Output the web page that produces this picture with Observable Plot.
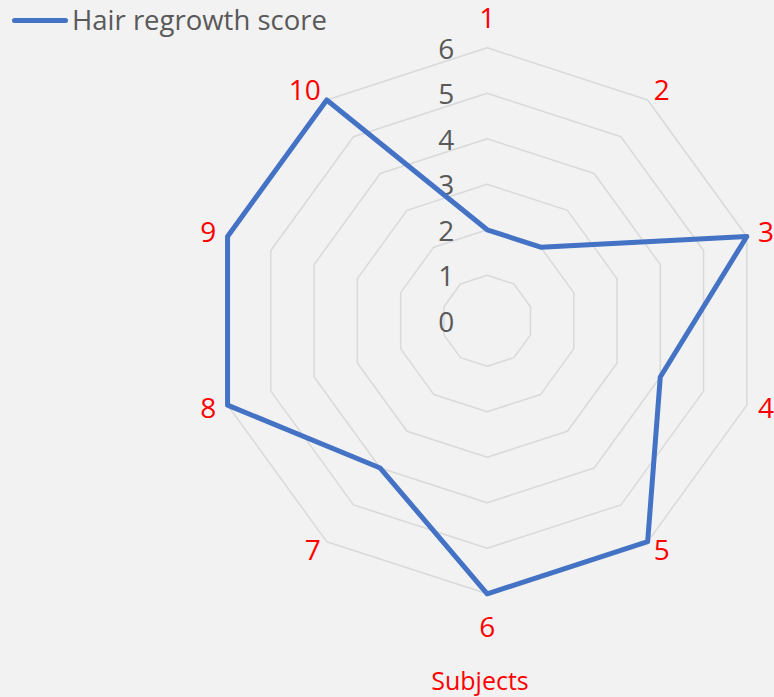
<!DOCTYPE html>
<html>
<head>
<meta charset="utf-8">
<script src="https://cdn.jsdelivr.net/npm/d3@7"></script>
<script src="https://cdn.jsdelivr.net/npm/@observablehq/plot@0.6"></script>
<style>
  html, body { margin: 0; padding: 0; background: #f2f2f2; }
  body { position: relative; width: 774px; height: 697px; overflow: hidden; font-family: "Open Sans", sans-serif; }
  #legend { position: absolute; left: 0; top: 0; height: 40px; width: 400px; z-index: 2; }
  #legend .swatch { position: absolute; left: 12px; top: 17.5px; width: 56px; height: 5px; border-radius: 3px; background: #4472C4; }
  #legend .label { position: absolute; left: 72px; top: 0; line-height: 40px; font-size: 27.5px; color: #595959; white-space: nowrap; }
  #chart svg { display: block; }
  #caption { height: 37px; text-align: center; font-size: 25px; color: #ff0000; padding-left: 186px; line-height: 40px; }
</style>
</head>
<body>
<div id="legend"><div class="swatch"></div><div class="label"></div></div>
<div id="chart"></div>
<div id="caption"></div>
<script>
const subjects = ["1", "2", "3", "4", "5", "6", "7", "8", "9", "10"];
const scores = [2, 2, 6, 4, 6, 6, 4, 6, 6, 6];
const ticks = [0, 1, 2, 3, 4, 5, 6];
const seriesName = "Hair regrowth score";
const axisTitle = "Subjects";

document.querySelector("#legend .label").textContent = seriesName;
document.getElementById("caption").textContent = axisTitle;

const n = subjects.length;
const maxV = d3.max(ticks);
const unit = 45.5; // px per score unit
const ang = i => (i / n) * 2 * Math.PI;

const points = subjects.map((s, i) => ({
  subject: s,
  value: scores[i],
  x: scores[i] * Math.sin(ang(i)),
  y: scores[i] * Math.cos(ang(i))
}));

const rings = ticks.filter(k => k > 0).flatMap(k =>
  subjects.map((s, i) => ({ring: k, x: k * Math.sin(ang(i)), y: k * Math.cos(ang(i))}))
);

// category labels placed just outside the outer ring, anchored by side
const labelPos = subjects.map((s, i) => {
  const sx = Math.sin(ang(i)), c = Math.cos(ang(i));
  const side = Math.abs(sx) < 0.01 ? "middle" : (sx > 0 ? "start" : "end");
  const hx = side === "middle" ? 0 : Math.sign(sx) * 12 * Math.pow(Math.abs(sx), 1.3);
  const vy = side === "middle" ? (c > 0 ? 28.5 : -34) : c * 11.5;
  return {subject: s, side, x: maxV * sx + hx / unit, y: maxV * c + vy / unit};
});

const W = 774, H = 660, cx = 486.7, cy = 320.3;
const labelStyle = {x: "x", y: "y", text: "subject", fill: "#ff0000", fontSize: 28};

const chart = Plot.plot({
  width: W,
  height: H,
  margin: 0,
  style: {background: "transparent", fontFamily: "Open Sans, sans-serif"},
  x: {domain: [-cx / unit, (W - cx) / unit], axis: null},
  y: {domain: [-(H - cy) / unit, cy / unit], axis: null},
  marks: [
    Plot.line(rings, {x: "x", y: "y", z: "ring", curve: "linear-closed", stroke: "#d9d9d9", strokeWidth: 1.5}),
    Plot.text(ticks, {x: 0, y: d => d, text: d => String(d), dx: -33, dy: 2, textAnchor: "end", fill: "#595959", fontSize: 28}),
    Plot.line(points, {x: "x", y: "y", curve: "linear-closed", stroke: "#4472C4", strokeWidth: 5, strokeLinejoin: "round"}),
    Plot.text(labelPos.filter(d => d.side === "middle"), {...labelStyle, textAnchor: "middle"}),
    Plot.text(labelPos.filter(d => d.side === "start"), {...labelStyle, textAnchor: "start"}),
    Plot.text(labelPos.filter(d => d.side === "end"), {...labelStyle, textAnchor: "end"})
  ]
});
document.getElementById("chart").appendChild(chart);
</script>
</body>
</html>
